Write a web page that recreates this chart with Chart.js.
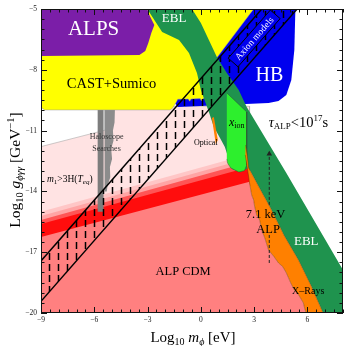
<!DOCTYPE html>
<html>
<head>
<meta charset="utf-8">
<script src="https://cdn.jsdelivr.net/npm/chart.js@4.4.0/dist/chart.umd.min.js"></script>
<style>
  html, body { margin: 0; padding: 0; background: #fff; }
  canvas { display: block; }
</style>
</head>
<body>
<canvas id="c" width="347" height="346"></canvas>
<script>
// axes (log10 m in eV, log10 g in GeV^-1)
const xRange = [-9, 8];
const yRange = [-20, -5];
const xTicks = [-9, -6, -3, 0, 3, 6];
const yTicks = [-20, -17, -14, -11, -8, -5];

// excluded / allowed regions, points are [log10 m, log10 g]
const alps = [[-9, -5], [-3.02, -5], [-2.9, -5.3], [-2.62, -5.79], [-2.79, -6.18], [-2.96, -6.68], [-3.13, -7.07], [-3.46, -7.27], [-9, -7.32]];
const cast = [[-9, -5], [2.97, -5], [0.9, -7.4], [0.4, -9.3], [0.34, -9.42], [0.12, -9.42], [0.04, -9.54], [-0.04, -9.42], [-0.55, -9.44], [-0.63, -9.55], [-0.71, -9.44], [-1.3, -9.45], [-1.39, -9.6], [-1.6, -9.9], [-1.75, -9.98], [-8.8, -9.98], [-9, -9.85]];
const hb = [[-1.5, -9.2], [2.97, -5], [5.32, -5], [5.26, -7.02], [5.09, -8.5], [4.81, -9.24], [4.37, -9.54], [3.81, -9.64], [-1.3, -9.83], [-1.5, -9.6]];
const ebl = [[-3.02, -5], [-2.51, -5.69], [-2.18, -6.13], [-1.23, -6.53], [-0.67, -7.17], [-0.22, -8.16], [0, -9.0], [0.45, -10.08], [0.73, -10.82], [1.1, -11.4], [1.35, -11.81], [1.6, -12.5], [1.75, -12.9], [2.2, -13.05], [2.69, -12.84], [3.36, -13.93], [3.92, -14.82], [4.7, -16.2], [5.49, -17.38], [6.21, -18.67], [6.88, -20], [8, -20], [8, -17.88], [4.81, -13.09], [2.58, -9.83], [2.13, -9.0], [1.46, -8.16], [0.9, -7.37], [0.45, -6.53], [0, -5.69], [-0.5, -5]];
const xion = [[1.46, -9.14], [2.58, -10.08], [2.58, -12.7], [2.45, -12.98], [2.13, -13.04], [1.68, -12.84], [1.5, -12.6], [1.46, -12.4]];
const xrayLeft = [[2.74, -13.58], [2.86, -14.18], [2.97, -14.42], [3.02, -14.72], [3.14, -15.16], [3.31, -15.41], [3.42, -15.9], [3.6, -16.3], [3.81, -16.89], [4.1, -17.2], [4.37, -17.53], [4.6, -17.7], [4.81, -18.02], [5.05, -18.5], [5.26, -18.86], [5.5, -19.1], [5.77, -19.5], [5.85, -19.8], [5.93, -20]];
const xrayRight = [[2.52, -11.71], [2.62, -12.3], [2.69, -12.84], [3.36, -13.93], [3.92, -14.82], [4.7, -16.2], [5.49, -17.38], [6.21, -18.67], [6.88, -20]];
const optical = [[0.62, -10.38], [0.73, -10.33], [0.955, -11.46], [0.84, -11.66]];
const haloA = [[-5.81, -9.98], [-5.48, -9.98], [-5.48, -15.0], [-5.81, -15.0]];
const haloB = [[-5.42, -9.98], [-4.84, -9.98], [-4.86, -10.6], [-4.95, -11.0], [-4.92, -11.5], [-5.05, -11.9], [-5.0, -12.4], [-5.12, -12.8], [-5.1, -13.3], [-5.25, -13.7], [-5.3, -14.0], [-5.42, -14.0]];
const coldRegion = [[-9, -11.79], [-5.45, -10.99], [-5.4, -9.8], [2.74, -9.8], [2.74, -20], [-9, -20]];

// misalignment bands, top edges at m = 1e-9 and m = 10^2.74 eV
const bandA = [[-9, -15.01], [2.74, -12.15]];
const bandB = [[-9, -15.21], [2.74, -12.35]];
const bandC = [[-9, -15.41], [2.74, -12.55]];
const bandD = [[-9, -15.61], [2.74, -12.8]];
const cdmTop = [[-9, -16.25], [2.74, -13.53]];

// axion model band edges
const axionUpper = [[-9, -17.43], [8, -0.43]];
const axionLower = [[-9, -19.42], [8, -2.42]];

// 7.1 keV line
const keVLineA = [[3.85, -12.05], [3.85, -14.72]];
const keVLineB = [[3.85, -16.15], [3.85, -17.55]];
const keVTip = [[3.85, -12.15]];

const P = a => a.map(p => ({ x: p[0], y: p[1] }));
const layers = []; // bottom to top

function area(pts, color, line, lw) {
  layers.push({ data: P(pts), showLine: true, fill: 'shape', backgroundColor: color,
    borderColor: line || 'rgba(0,0,0,0)', borderWidth: lw || 0, pointRadius: 0, tension: 0 });
}
function band(top, color) {
  area([...top, [top[1][0], yRange[0]], [top[0][0], yRange[0]]], color);
}

const canvas = document.getElementById('c');
const ctx = canvas.getContext('2d');

// vertical dashed hatching
const tile = document.createElement('canvas');
tile.width = 9; tile.height = 11;
const tg = tile.getContext('2d');
tg.strokeStyle = '#000'; tg.lineWidth = 1.5;
tg.beginPath(); tg.moveTo(4.5, 0); tg.lineTo(4.5, 7); tg.stroke();
const hatch = ctx.createPattern(tile, 'repeat');

area(coldRegion, '#ffe3e3', '#aaa', 0.6);
band(bandA, '#ffc6c6');
band(bandB, '#ffa4a4');
band(bandC, '#ff5555');
band(bandD, '#ff0d0d');
area([...cdmTop, ...xrayLeft, [xrayLeft[xrayLeft.length - 1][0], yRange[0]], [-9, yRange[0]]], '#ff8080');
area(haloA, '#7d7d7d');
area(haloB, '#8c8c8c');
area(hb, '#0000ee');
area(cast, '#ffff00', '#999', 0.5);
area(alps, '#7b1ea8');
area(ebl, '#1f934e');
area(xion, '#2def2d', '#333', 0.4);
area([...xrayRight, ...xrayLeft.slice().reverse(), [2.63, -12.94], [2.5, -12.2]], '#ff8000', '#5a3000', 0.4);
area(optical, '#ff8000');

layers.push({ data: P(axionUpper), showLine: true, fill: '+1', backgroundColor: hatch,
  borderColor: '#000', borderWidth: 1.4, pointRadius: 0 });
layers.push({ data: P(axionLower), showLine: true, fill: false,
  borderColor: '#000', borderWidth: 1.4, pointRadius: 0 });

layers.push({ data: P(keVLineA), showLine: true, fill: false, borderColor: '#222', borderWidth: 1, borderDash: [3, 2], pointRadius: 0 });
layers.push({ data: P(keVLineB), showLine: true, fill: false, borderColor: '#222', borderWidth: 1, borderDash: [3, 2], pointRadius: 0 });
layers.push({ data: P(keVTip), showLine: false, pointStyle: 'triangle', pointRadius: 3.2, backgroundColor: '#222', borderColor: '#222', borderWidth: 0 });

const datasets = layers.map((d, i) => ({ ...d, order: layers.length - i }));

// text, [x, y, parts, colour]
const notes = [
  [-6.04, -5.94, [{ t: 'ALPS', s: 21 }], '#fff'],
  [-5.03, -8.65, [{ t: 'CAST+Sumico', s: 14.5 }], '#000'],
  [-1.51, -5.44, [{ t: 'EBL', s: 13 }], '#fff'],
  [3.86, -8.21, [{ t: 'HB', s: 20 }], '#fff'],
  [-5.31, -11.27, [{ t: 'Haloscope', s: 8 }], '#333'],
  [-5.31, -11.86, [{ t: 'Searches', s: 8 }], '#333'],
  [-7.38, -13.39, [{ t: 'm', s: 9.5, i: 1 }, { t: '1', s: 7, dy: 2 }, { t: '>3H(', s: 9.5 }, { t: 'T', s: 9.5, i: 1 }, { t: 'eq', s: 7, i: 1, dy: 2 }, { t: ')', s: 9.5 }], '#000'],
  [2.02, -10.57, [{ t: 'x', s: 12, i: 1 }, { t: 'ion', s: 8, dy: 2 }], '#000'],
  [0.28, -11.56, [{ t: 'Optical', s: 8 }], '#000'],
  [5.49, -10.57, [{ t: 'τ', s: 14.5, i: 1 }, { t: 'ALP', s: 9, dy: 2.5 }, { t: '<10', s: 14.5 }, { t: '17', s: 9, dy: -6 }, { t: 's', s: 14.5 }], '#000'],
  [3.64, -15.11, [{ t: '7.1 keV', s: 12.5 }], '#000'],
  [3.78, -15.85, [{ t: 'ALP', s: 12.5 }], '#000'],
  [5.93, -16.45, [{ t: 'EBL', s: 13 }], '#fff'],
  [-1.0, -17.93, [{ t: 'ALP CDM', s: 12.5 }], '#000'],
  [6.04, -18.91, [{ t: 'X–Rays', s: 10 }], '#000']
];
const axionLabel = [3.0, -6.45];

const font = p => (p.i ? 'italic ' : '') + p.s + 'px "Liberation Serif"';

function rich(c, cx, cy, parts, color, angle) {
  c.save();
  c.translate(cx, cy);
  if (angle) c.rotate(angle);
  let w = 0;
  parts.forEach(p => { c.font = font(p); p.w = c.measureText(p.t).width; w += p.w; });
  let x = -w / 2;
  const base = parts[0].s * 0.33;
  c.fillStyle = color;
  c.textBaseline = 'alphabetic';
  c.textAlign = 'left';
  parts.forEach(p => { c.font = font(p); c.fillText(p.t, x, base + (p.dy || 0)); x += p.w; });
  c.restore();
}

const frame = {
  id: 'frame',
  afterDatasetsDraw(chart) {
    const { ctx: c, chartArea: a, scales: { x, y } } = chart;
    c.save();
    c.strokeStyle = '#111';
    c.lineWidth = 1;
    c.strokeRect(a.left + 0.5, a.top + 0.5, a.right - a.left - 1, a.bottom - a.top - 1);
    c.beginPath();
    for (let v = xRange[0]; v <= xRange[1]; v += 0.5) {
      const px = Math.round(x.getPixelForValue(v)) + 0.5;
      const len = (v - xRange[0]) % 3 === 0 ? 6 : 3.5;
      c.moveTo(px, a.bottom); c.lineTo(px, a.bottom - len);
      c.moveTo(px, a.top); c.lineTo(px, a.top + len);
    }
    for (let v = yRange[0]; v <= yRange[1]; v += 0.5) {
      const py = Math.round(y.getPixelForValue(v)) + 0.5;
      const len = (v - yRange[0]) % 3 === 0 ? 6 : 3.5;
      c.moveTo(a.left, py); c.lineTo(a.left + len, py);
      c.moveTo(a.right, py); c.lineTo(a.right - len, py);
    }
    c.stroke();
    c.restore();
  },
  afterDraw(chart) {
    const { ctx: c, scales: { x, y } } = chart;
    notes.forEach(n => rich(c, x.getPixelForValue(n[0]), y.getPixelForValue(n[1]), n[2], n[3]));

    // rotated "Axion models" box along the band
    const ang = Math.atan2(y.getPixelForValue(1) - y.getPixelForValue(0), x.getPixelForValue(1) - x.getPixelForValue(0));
    c.save();
    c.translate(x.getPixelForValue(axionLabel[0]), y.getPixelForValue(axionLabel[1]));
    c.rotate(ang);
    c.fillStyle = '#0000ee';
    c.fillRect(-32, -6.5, 64, 13);
    c.strokeStyle = '#000'; c.lineWidth = 0.9;
    c.strokeRect(-32, -6.5, 64, 13);
    c.restore();
    rich(c, x.getPixelForValue(axionLabel[0]), y.getPixelForValue(axionLabel[1]), [{ t: 'Axion models', s: 9.5 }], '#fff', ang);

    // axis titles
    rich(c, 193, 337, [{ t: 'Log', s: 15 }, { t: '10', s: 10, dy: 3 }, { t: ' ', s: 15 }, { t: 'm', s: 15, i: 1 }, { t: 'ϕ', s: 10, i: 1, dy: 3 }, { t: ' [eV]', s: 15 }], '#000');
    rich(c, 15, 170, [{ t: 'Log', s: 15.5 }, { t: '10', s: 10.5, dy: 3 }, { t: ' ', s: 15.5 }, { t: 'g', s: 15.5, i: 1 }, { t: 'ϕγγ', s: 10.5, i: 1, dy: 3 }, { t: ' [GeV', s: 15.5 }, { t: '−1', s: 10.5, dy: -6 }, { t: ']', s: 15.5 }], '#000', -Math.PI / 2);
  }
};

const minus = v => (v < 0 ? '\u2212' + Math.abs(v) : '' + v);

new Chart(ctx, {
  type: 'scatter',
  data: { datasets },
  options: {
    responsive: false,
    animation: false,
    layout: { padding: { top: 9, right: 2, left: 0, bottom: 0 } },
    plugins: { legend: { display: false }, tooltip: { enabled: false } },
    scales: {
      x: {
        type: 'linear', min: xRange[0], max: xRange[1],
        grid: { display: false, drawTicks: false }, border: { display: false },
        afterBuildTicks: s => { s.ticks = xTicks.map(v => ({ value: v })); },
        afterFit: s => { s.height = 33; },
        ticks: { font: { family: 'Liberation Serif', size: 7.5 }, color: '#222', padding: 3, maxRotation: 0, autoSkip: false, callback: minus }
      },
      y: {
        type: 'linear', min: yRange[0], max: yRange[1],
        grid: { display: false, drawTicks: false }, border: { display: false },
        afterBuildTicks: s => { s.ticks = yTicks.map(v => ({ value: v })); },
        afterFit: s => { s.width = 41; },
        ticks: { font: { family: 'Liberation Serif', size: 7.5 }, color: '#222', padding: 4, autoSkip: false, callback: minus }
      }
    }
  },
  plugins: [frame]
});
</script>
</body>
</html>
